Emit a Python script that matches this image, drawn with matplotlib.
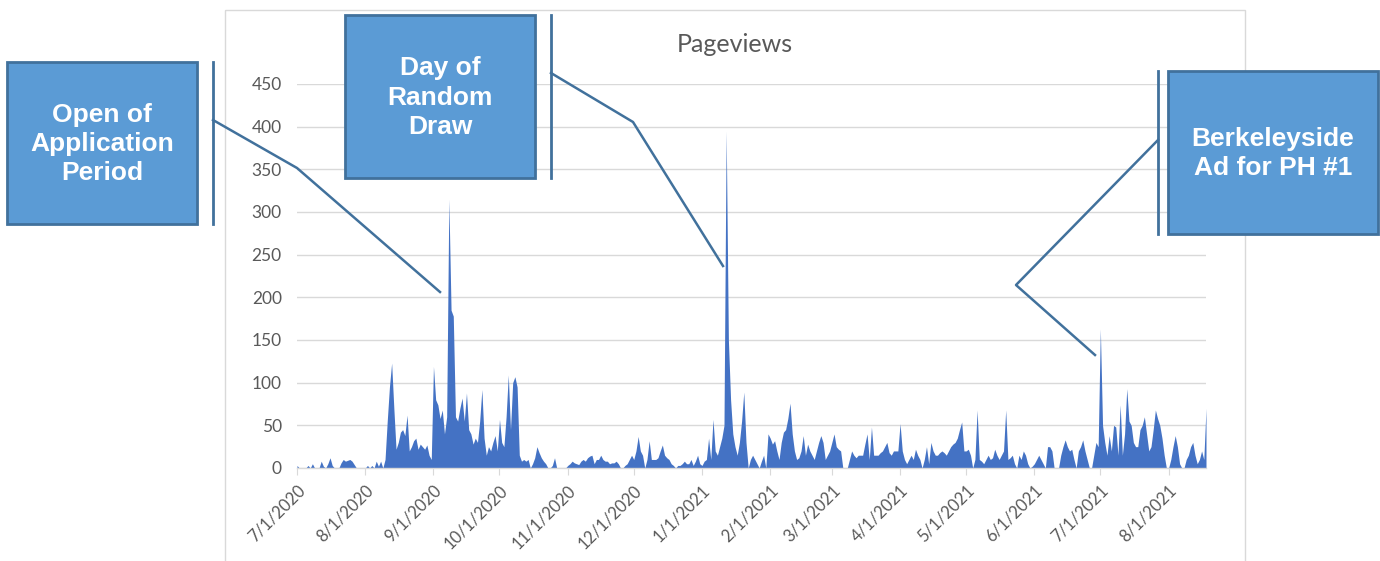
import numpy as np
import pandas as pd
import matplotlib
matplotlib.use("Agg")
import matplotlib.pyplot as plt
from matplotlib.patches import Rectangle

plt.rcParams['font.family'] = ['Lato', 'DejaVu Sans']

# daily pageviews, one list per month
jul_2020 = [3, 0, 0, 0, 0, 3, 0, 5, 0, 0, 0, 8, 2, 0, 5, 12, 3, 0, 0, 0, 6, 10, 8, 9, 10, 8, 4, 0, 0, 0, 0]
aug_2020 = [0, 3, 0, 3, 0, 8, 2, 8, 0, 10, 55, 95, 123, 70, 22, 30, 42, 45, 38, 62, 20, 25, 32, 35, 22, 28,
            25, 22, 27, 15, 10]
sep_2020 = [119, 80, 74, 58, 68, 40, 60, 315, 185, 178, 60, 55, 70, 82, 55, 88, 45, 40, 28, 35, 30, 55, 92,
            35, 15, 25, 20, 30, 38, 20]
oct_2020 = [57, 30, 25, 60, 109, 45, 100, 107, 95, 15, 8, 10, 8, 10, 0, 5, 12, 25, 18, 12, 8, 5, 0, 0, 3, 12,
            0, 0, 0, 0, 0]
nov_2020 = [3, 5, 8, 6, 5, 4, 8, 10, 8, 12, 14, 15, 5, 10, 10, 15, 10, 8, 8, 5, 6, 6, 8, 5, 0, 0, 3, 5, 10, 15]
dec_2020 = [10, 20, 37, 20, 15, 0, 10, 32, 10, 10, 10, 12, 20, 27, 15, 12, 10, 5, 3, 0, 3, 3, 5, 8, 5, 5, 10,
            3, 8, 15, 5]
jan_2021 = [3, 8, 10, 35, 10, 57, 20, 15, 25, 35, 50, 395, 150, 80, 40, 25, 15, 30, 55, 89, 30, 0, 10, 15, 10,
            5, 0, 8, 15, 0, 40]
feb_2021 = [35, 28, 32, 20, 10, 30, 42, 45, 58, 76, 40, 20, 10, 12, 20, 38, 15, 28, 20, 15, 10, 20, 30, 38,
            30, 10, 15, 20]
mar_2021 = [30, 40, 25, 22, 20, 0, 0, 0, 10, 20, 15, 12, 15, 15, 15, 28, 40, 10, 48, 15, 15, 15, 18, 20, 25,
            30, 18, 15, 20, 20, 20]
apr_2021 = [52, 20, 10, 5, 10, 15, 10, 22, 15, 10, 0, 10, 25, 5, 30, 20, 15, 15, 18, 20, 18, 15, 20, 25, 28,
            30, 35, 45, 54, 20]
may_2021 = [20, 22, 15, 0, 10, 68, 10, 8, 5, 10, 15, 10, 12, 22, 15, 10, 15, 20, 68, 10, 12, 15, 5, 0, 15, 10,
            20, 15, 5, 0, 2]
jun_2021 = [5, 10, 15, 10, 5, 0, 25, 25, 20, 0, 0, 0, 15, 25, 33, 25, 20, 22, 10, 0, 20, 25, 33, 20, 10, 0, 0,
            15, 30, 25]
jul_2021 = [163, 50, 30, 15, 38, 20, 50, 48, 15, 74, 15, 40, 93, 55, 50, 30, 25, 25, 45, 50, 60, 40, 20, 25,
            45, 68, 58, 50, 35, 15, 0]
aug_2021 = [0, 10, 25, 38, 25, 5, 0, 0, 10, 15, 25, 30, 15, 5, 10, 20, 10, 70]

pageviews = (jul_2020 + aug_2020 + sep_2020 + oct_2020 + nov_2020 + dec_2020 + jan_2021 + feb_2021
             + mar_2021 + apr_2021 + may_2021 + jun_2021 + jul_2021 + aug_2021)
dates = pd.date_range("2020-07-01", periods=len(pageviews), freq="D")
month_ticks = pd.date_range("2020-07-01", "2021-08-01", freq="MS")
y_ticks = list(range(0, 451, 50))

callouts = ["Open of\nApplication\nPeriod", "Day of\nRandom\nDraw", "Berkeleyside\nAd for PH #1"]

W, H = 1380, 561
fig = plt.figure(figsize=(W / 100, H / 100), dpi=100)
fig.patch.set_facecolor("white")

ax = fig.add_axes([297 / W, 1 - 468 / H, (1206 - 297) / W, (468 - 84) / H])
ax.fill_between(dates, 0, pageviews, color="#4472C4", linewidth=0, zorder=2)
ax.set_xlim(dates[0], dates[-1])
ax.set_ylim(0, 450)
ax.set_yticks(y_ticks)
ax.grid(axis="y", color="#D9D9D9", linewidth=1.0, zorder=0)
ax.set_axisbelow(True)
for s in ["top", "left", "right"]:
    ax.spines[s].set_visible(False)
ax.spines["bottom"].set_color("#D9D9D9")
ax.spines["bottom"].set_linewidth(1.0)
ax.tick_params(axis="y", length=0, pad=11, labelsize=12.5, labelcolor="#595959")
ax.set_xticks(month_ticks)
ax.set_xticklabels([f"{d.month}/{d.day}/{d.year}" for d in month_ticks], rotation=45,
                   ha="right", va="top", rotation_mode="anchor")
ax.tick_params(axis="x", length=5, color="#D9D9D9", labelsize=12, labelcolor="#595959", pad=5)

# title centred on the chart frame rather than the plot area
fig.text(735 / W, 1 - 44 / H, "Pageviews", ha="center", va="center", fontsize=18, color="#595959")

# overlay in pixel coordinates for chart border and callouts
ov = fig.add_axes([0, 0, 1, 1], zorder=5)
ov.set_xlim(0, W)
ov.set_ylim(H, 0)
ov.axis("off")
ov.patch.set_alpha(0)

ov.add_patch(Rectangle((225, 10), 1020, 570, fill=False, edgecolor="#D9D9D9", linewidth=1.0))

box_fill = "#5B9BD5"
box_edge = "#41719C"
line_col = "#41719C"

boxes = [
    # (x0, y0, x1, y1), accent bar x, leader path
    ((7, 62, 197, 224), 213, [(213, 120), (297, 168), (440, 292)]),
    ((345, 15, 535, 178), 551, [(551, 73), (633, 122), (723, 266)]),
    ((1168, 71, 1378, 234), 1158, [(1158, 140), (1016, 285), (1095, 355)]),
]
for ((x0, y0, x1, y1), bar_x, path), label in zip(boxes, callouts):
    ov.add_patch(Rectangle((x0, y0), x1 - x0, y1 - y0, facecolor=box_fill, edgecolor=box_edge,
                           linewidth=2))
    ov.plot([bar_x, bar_x], [y0, y1], color=line_col, linewidth=2)
    px, py = zip(*path)
    ov.plot(px, py, color=line_col, linewidth=1.8)
    ov.text((x0 + x1) / 2, (y0 + y1) / 2 + 1, label, ha="center", va="center", color="white",
            fontsize=19, fontweight="bold", family=["Liberation Sans", "DejaVu Sans"], linespacing=1.27)

fig.savefig("out.png", dpi=100)
